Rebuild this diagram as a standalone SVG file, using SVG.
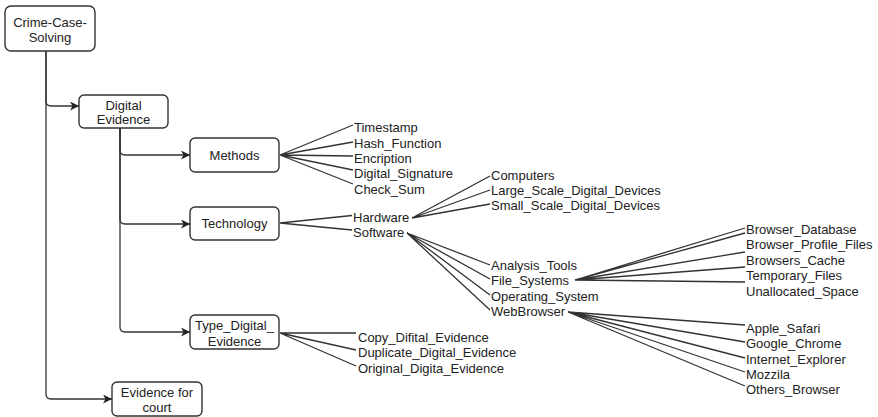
<svg xmlns="http://www.w3.org/2000/svg" width="878" height="417" viewBox="0 0 878 417">
  <style>
    .box { fill: #ffffff; stroke: #333333; stroke-width: 1.4; }
    .t { font-family: "Liberation Sans", Arial, sans-serif; font-size: 13px; fill: #222222; }
    .c { text-anchor: middle; }
    .edge { fill: none; stroke: #333333; stroke-width: 1.3; }
    .leaf { fill: none; stroke: #333333; stroke-width: 1.3; }
  </style>
  <defs>
    <marker id="arrow" markerUnits="userSpaceOnUse" markerWidth="10" markerHeight="9" refX="9" refY="4.5" orient="auto">
      <path d="M0,0 L9,4.5 L0,9 L2.5,4.5 Z" fill="#222222"/>
    </marker>
  </defs>
  <rect width="878" height="417" fill="#ffffff"/>

  <!-- connectors -->
  <g id="connectors">
    <!-- tree edges with arrows -->
    <path class="edge" d="M46,51 V101 Q46,106 51,106 H79" marker-end="url(#arrow)"/>
    <path class="edge" d="M46,51 V394 Q46,399 51,399 H112" marker-end="url(#arrow)"/>
    <path class="edge" d="M120,128 V150 Q120,155 125,155 H190" marker-end="url(#arrow)"/>
    <path class="edge" d="M120,128 V219 Q120,224 125,224 H190" marker-end="url(#arrow)"/>
    <path class="edge" d="M120,128 V327 Q120,332 125,332 H190" marker-end="url(#arrow)"/>

    <!-- Methods fan -->
    <path class="leaf" d="M280,155 L353,125 M280,155 L353,142 M280,155 L353,156 M280,155 L353,170 M280,155 L353,184"/>
    <!-- Technology fan -->
    <path class="leaf" d="M280,223 L352,215.5 M280,223 L352,230"/>
    <!-- Hardware fan -->
    <path class="leaf" d="M412,218 L490,176 M412,218 L490,190 M412,218 L490,204"/>
    <!-- Software fan -->
    <path class="leaf" d="M407,233 L490,265 M407,233 L490,279 M407,233 L490,295 M407,233 L490,310"/>
    <!-- File_Systems fan -->
    <path class="leaf" d="M575,280 L745,228 M575,280 L745,233 M575,280 L745,252 M575,280 L745,267 M575,280 L745,282"/>
    <!-- WebBrowser fan -->
    <path class="leaf" d="M568,312 L745,325 M568,312 L745,342 M568,312 L745,358 M568,312 L745,372 M568,312 L745,386"/>
    <!-- Type_Digital_Evidence fan -->
    <path class="leaf" d="M280,333 L356,333 M280,333 L356,350 M280,333 L356,366"/>
  </g>

  <!-- boxed nodes -->
  <g id="crime-case-solving">
    <rect class="box" x="5" y="6" width="90" height="45" rx="6"/>
    <text class="t c" x="50" y="26.5">Crime-Case-</text>
    <text class="t c" x="50" y="41.5">Solving</text>
  </g>
  <g id="digital-evidence">
    <rect class="box" x="79" y="95" width="89" height="33" rx="5"/>
    <text class="t c" x="123.5" y="109.5">Digital</text>
    <text class="t c" x="123.5" y="123.5">Evidence</text>
  </g>
  <g id="methods">
    <rect class="box" x="190" y="138" width="89" height="34" rx="5"/>
    <text class="t c" x="234.5" y="159.5">Methods</text>
  </g>
  <g id="technology">
    <rect class="box" x="190" y="207" width="89" height="33" rx="5"/>
    <text class="t c" x="234.5" y="228">Technology</text>
  </g>
  <g id="type-digital-evidence">
    <rect class="box" x="190" y="315" width="89" height="34" rx="5"/>
    <text class="t c" x="234.5" y="329.5">Type_Digital_</text>
    <text class="t c" x="234.5" y="345.5">Evidence</text>
  </g>
  <g id="evidence-for-court">
    <rect class="box" x="112" y="382" width="90" height="34" rx="5"/>
    <text class="t c" x="157" y="397">Evidence for</text>
    <text class="t c" x="157" y="412">court</text>
  </g>

  <!-- Methods leaves -->
  <g id="timestamp"><text class="t" x="354" y="131.5">Timestamp</text></g>
  <g id="hash-function"><text class="t" x="354" y="147.5">Hash_Function</text></g>
  <g id="encription"><text class="t" x="354" y="162.5">Encription</text></g>
  <g id="digital-signature"><text class="t" x="354" y="178">Digital_Signature</text></g>
  <g id="check-sum"><text class="t" x="354" y="193.5">Check_Sum</text></g>

  <!-- Technology branches -->
  <g id="hardware"><text class="t" x="353" y="222">Hardware</text></g>
  <g id="software"><text class="t" x="353" y="237">Software</text></g>

  <!-- Hardware leaves -->
  <g id="computers"><text class="t" x="491" y="179.5">Computers</text></g>
  <g id="large-scale"><text class="t" x="491" y="195">Large_Scale_Digital_Devices</text></g>
  <g id="small-scale"><text class="t" x="491" y="209.5">Small_Scale_Digital_Devices</text></g>

  <!-- Software leaves -->
  <g id="analysis-tools"><text class="t" x="491" y="269.5">Analysis_Tools</text></g>
  <g id="file-systems"><text class="t" x="491" y="285">File_Systems</text></g>
  <g id="operating-system"><text class="t" x="491" y="301">Operating_System</text></g>
  <g id="webbrowser"><text class="t" x="491" y="316">WebBrowser</text></g>

  <!-- File_Systems leaves -->
  <g id="browser-database"><text class="t" x="746" y="233.5">Browser_Database</text></g>
  <g id="browser-profile-files"><text class="t" x="746" y="248.5">Browser_Profile_Files</text></g>
  <g id="browsers-cache"><text class="t" x="746" y="264.5">Browsers_Cache</text></g>
  <g id="temporary-files"><text class="t" x="746" y="279.5">Temporary_Files</text></g>
  <g id="unallocated-space"><text class="t" x="746" y="295.5">Unallocated_Space</text></g>

  <!-- WebBrowser leaves -->
  <g id="apple-safari"><text class="t" x="746" y="332.5">Apple_Safari</text></g>
  <g id="google-chrome"><text class="t" x="746" y="347.5">Google_Chrome</text></g>
  <g id="internet-explorer"><text class="t" x="746" y="363.5">Internet_Explorer</text></g>
  <g id="mozzila"><text class="t" x="746" y="378.5">Mozzila</text></g>
  <g id="others-browser"><text class="t" x="746" y="393.5">Others_Browser</text></g>

  <!-- Type_Digital_Evidence leaves -->
  <g id="copy-evidence"><text class="t" x="358" y="341.5">Copy_Difital_Evidence</text></g>
  <g id="duplicate-evidence"><text class="t" x="358" y="357">Duplicate_Digital_Evidence</text></g>
  <g id="original-evidence"><text class="t" x="358" y="372.5">Original_Digita_Evidence</text></g>
</svg>
